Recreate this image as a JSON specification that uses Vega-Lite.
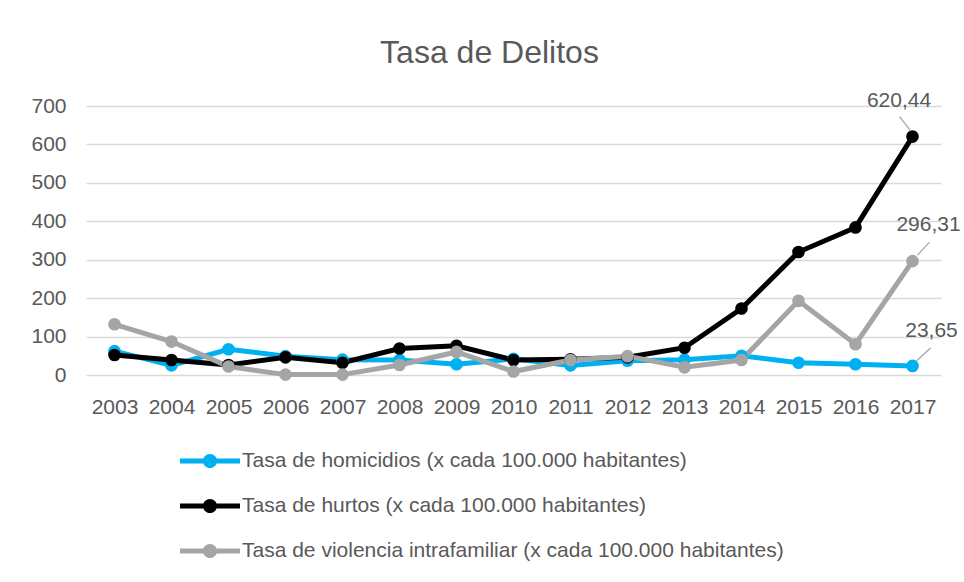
{
  "$schema": "https://vega.github.io/schema/vega-lite/v6.json",
  "width": 855,
  "height": 269,
  "autosize": {"type": "none"},
  "padding": {"left": 86, "top": 106, "right": 23, "bottom": 207},
  "background": "white",
  "title": {"text": "Tasa de Delitos"},
  "data": {"values": [
    {"year": 2003, "serie": "Tasa de homicidios (x cada 100.000 habitantes)", "value": 62},
    {"year": 2004, "serie": "Tasa de homicidios (x cada 100.000 habitantes)", "value": 25},
    {"year": 2005, "serie": "Tasa de homicidios (x cada 100.000 habitantes)", "value": 67},
    {"year": 2006, "serie": "Tasa de homicidios (x cada 100.000 habitantes)", "value": 49},
    {"year": 2007, "serie": "Tasa de homicidios (x cada 100.000 habitantes)", "value": 40},
    {"year": 2008, "serie": "Tasa de homicidios (x cada 100.000 habitantes)", "value": 39},
    {"year": 2009, "serie": "Tasa de homicidios (x cada 100.000 habitantes)", "value": 28},
    {"year": 2010, "serie": "Tasa de homicidios (x cada 100.000 habitantes)", "value": 42},
    {"year": 2011, "serie": "Tasa de homicidios (x cada 100.000 habitantes)", "value": 25},
    {"year": 2012, "serie": "Tasa de homicidios (x cada 100.000 habitantes)", "value": 37},
    {"year": 2013, "serie": "Tasa de homicidios (x cada 100.000 habitantes)", "value": 40},
    {"year": 2014, "serie": "Tasa de homicidios (x cada 100.000 habitantes)", "value": 50},
    {"year": 2015, "serie": "Tasa de homicidios (x cada 100.000 habitantes)", "value": 32},
    {"year": 2016, "serie": "Tasa de homicidios (x cada 100.000 habitantes)", "value": 28},
    {"year": 2017, "serie": "Tasa de homicidios (x cada 100.000 habitantes)", "value": 23.65},
    {"year": 2003, "serie": "Tasa de hurtos (x cada 100.000 habitantes)", "value": 52},
    {"year": 2004, "serie": "Tasa de hurtos (x cada 100.000 habitantes)", "value": 39},
    {"year": 2005, "serie": "Tasa de hurtos (x cada 100.000 habitantes)", "value": 26},
    {"year": 2006, "serie": "Tasa de hurtos (x cada 100.000 habitantes)", "value": 46},
    {"year": 2007, "serie": "Tasa de hurtos (x cada 100.000 habitantes)", "value": 32},
    {"year": 2008, "serie": "Tasa de hurtos (x cada 100.000 habitantes)", "value": 69},
    {"year": 2009, "serie": "Tasa de hurtos (x cada 100.000 habitantes)", "value": 76},
    {"year": 2010, "serie": "Tasa de hurtos (x cada 100.000 habitantes)", "value": 39},
    {"year": 2011, "serie": "Tasa de hurtos (x cada 100.000 habitantes)", "value": 41},
    {"year": 2012, "serie": "Tasa de hurtos (x cada 100.000 habitantes)", "value": 46},
    {"year": 2013, "serie": "Tasa de hurtos (x cada 100.000 habitantes)", "value": 71},
    {"year": 2014, "serie": "Tasa de hurtos (x cada 100.000 habitantes)", "value": 173},
    {"year": 2015, "serie": "Tasa de hurtos (x cada 100.000 habitantes)", "value": 320},
    {"year": 2016, "serie": "Tasa de hurtos (x cada 100.000 habitantes)", "value": 384},
    {"year": 2017, "serie": "Tasa de hurtos (x cada 100.000 habitantes)", "value": 620.44},
    {"year": 2003, "serie": "Tasa de violencia intrafamiliar (x cada 100.000 habitantes)", "value": 132},
    {"year": 2004, "serie": "Tasa de violencia intrafamiliar (x cada 100.000 habitantes)", "value": 87},
    {"year": 2005, "serie": "Tasa de violencia intrafamiliar (x cada 100.000 habitantes)", "value": 22},
    {"year": 2006, "serie": "Tasa de violencia intrafamiliar (x cada 100.000 habitantes)", "value": 1},
    {"year": 2007, "serie": "Tasa de violencia intrafamiliar (x cada 100.000 habitantes)", "value": 1},
    {"year": 2008, "serie": "Tasa de violencia intrafamiliar (x cada 100.000 habitantes)", "value": 26},
    {"year": 2009, "serie": "Tasa de violencia intrafamiliar (x cada 100.000 habitantes)", "value": 60},
    {"year": 2010, "serie": "Tasa de violencia intrafamiliar (x cada 100.000 habitantes)", "value": 9},
    {"year": 2011, "serie": "Tasa de violencia intrafamiliar (x cada 100.000 habitantes)", "value": 39},
    {"year": 2012, "serie": "Tasa de violencia intrafamiliar (x cada 100.000 habitantes)", "value": 49},
    {"year": 2013, "serie": "Tasa de violencia intrafamiliar (x cada 100.000 habitantes)", "value": 20},
    {"year": 2014, "serie": "Tasa de violencia intrafamiliar (x cada 100.000 habitantes)", "value": 39},
    {"year": 2015, "serie": "Tasa de violencia intrafamiliar (x cada 100.000 habitantes)", "value": 193},
    {"year": 2016, "serie": "Tasa de violencia intrafamiliar (x cada 100.000 habitantes)", "value": 80},
    {"year": 2017, "serie": "Tasa de violencia intrafamiliar (x cada 100.000 habitantes)", "value": 296.31}
  ]},
  "encoding": {
    "x": {"field": "year", "type": "ordinal", "axis": {"labelAngle": 0, "title": null, "domain": false, "ticks": false, "labelPadding": 21}, "scale": {"type": "point", "padding": 0.5}},
    "y": {"field": "value", "type": "quantitative", "scale": {"domain": [0, 700], "nice": false}, "axis": {"title": null, "values": [0, 100, 200, 300, 400, 500, 600, 700], "domain": false, "ticks": false, "labelPadding": 20, "grid": true, "gridColor": "#d9d9d9", "gridWidth": 1.3, "format": "d"}}
  },
  "layer": [
    {
      "mark": {"type": "line", "strokeWidth": 5},
      "encoding": {
        "color": {"field": "serie", "type": "nominal",
          "scale": {"domain": ["Tasa de homicidios (x cada 100.000 habitantes)", "Tasa de hurtos (x cada 100.000 habitantes)", "Tasa de violencia intrafamiliar (x cada 100.000 habitantes)"], "range": ["#00b0f0", "#000000", "#a5a5a5"]},
          "legend": {"title": null, "orient": "none", "legendX": 109, "legendY": 340, "direction": "vertical", "padding": 0,
            "symbolType": "M-2,-0.17L2,-0.17L2,0.17L-2,0.17Z M-0.47,0A0.47,0.47 0 1 1 0.47,0A0.47,0.47 0 1 1 -0.47,0Z",
            "symbolSize": 900, "labelOffset": 17, "rowPadding": 20, "labelFontSize": 21, "labelFont": "Liberation Sans", "labelColor": "#595959", "labelLimit": 800,
            "encode": {"symbols": {"update": {"fill": {"scale": "color", "field": "value"}, "strokeWidth": {"value": 0}, "opacity": {"value": 1}}}}}
        }
      }
    },
    {
      "mark": {"type": "point", "filled": true, "size": 160, "opacity": 1},
      "encoding": {
        "color": {"field": "serie", "type": "nominal"}
      }
    },
    {
      "transform": [{"filter": "datum.year == 2017 && datum.value > 600"}],
      "mark": {"type": "text", "font": "Liberation Sans", "fontSize": 21, "fill": "#595959", "align": "center", "baseline": "alphabetic", "dx": -13.5, "dy": -29.6},
      "encoding": {"text": {"field": "value", "type": "quantitative", "format": ".2f"}}
    },
    {
      "transform": [{"filter": "datum.year == 2017 && datum.value > 200 && datum.value < 600"}],
      "mark": {"type": "text", "font": "Liberation Sans", "fontSize": 21, "fill": "#595959", "align": "center", "baseline": "alphabetic", "dx": 16, "dy": -30.3},
      "encoding": {"text": {"field": "value", "type": "quantitative", "format": ".2f"}}
    },
    {
      "transform": [{"filter": "datum.year == 2017 && datum.value < 200"}],
      "mark": {"type": "text", "font": "Liberation Sans", "fontSize": 21, "fill": "#595959", "align": "center", "baseline": "alphabetic", "dx": 19, "dy": -29.2},
      "encoding": {"text": {"field": "value", "type": "quantitative", "format": ".2f"}}
    },
    {
      "transform": [{"filter": "datum.year == 2017 && datum.value > 600"}],
      "mark": {"type": "rule", "color": "#a6a6a6", "strokeWidth": 1.3, "xOffset": -13, "yOffset": -20, "x2Offset": -2, "y2Offset": -6},
      "encoding": {"x2": {"field": "year"}, "y2": {"field": "value"}}
    },
    {
      "transform": [{"filter": "datum.year == 2017 && datum.value > 200 && datum.value < 600"}],
      "mark": {"type": "rule", "color": "#a6a6a6", "strokeWidth": 1.3, "xOffset": 17, "yOffset": -19, "x2Offset": 5, "y2Offset": -6},
      "encoding": {"x2": {"field": "year"}, "y2": {"field": "value"}}
    },
    {
      "transform": [{"filter": "datum.year == 2017 && datum.value < 200"}],
      "mark": {"type": "rule", "color": "#a6a6a6", "strokeWidth": 1.3, "xOffset": 18, "yOffset": -18, "x2Offset": 4, "y2Offset": -5},
      "encoding": {"x2": {"field": "year"}, "y2": {"field": "value"}}
    }
  ],
  "config": {
    "locale": {"number": {"decimal": ",", "thousands": ".", "grouping": [3], "currency": ["$", ""]}},
    "view": {"stroke": null},
    "font": "Liberation Sans",
    "title": {"font": "Liberation Sans", "fontSize": 32, "fontWeight": "normal", "color": "#595959", "anchor": "middle", "dx": -24, "offset": 20},
    "axis": {"labelFont": "Liberation Sans", "labelFontSize": 21, "labelColor": "#595959"}
  }
}
